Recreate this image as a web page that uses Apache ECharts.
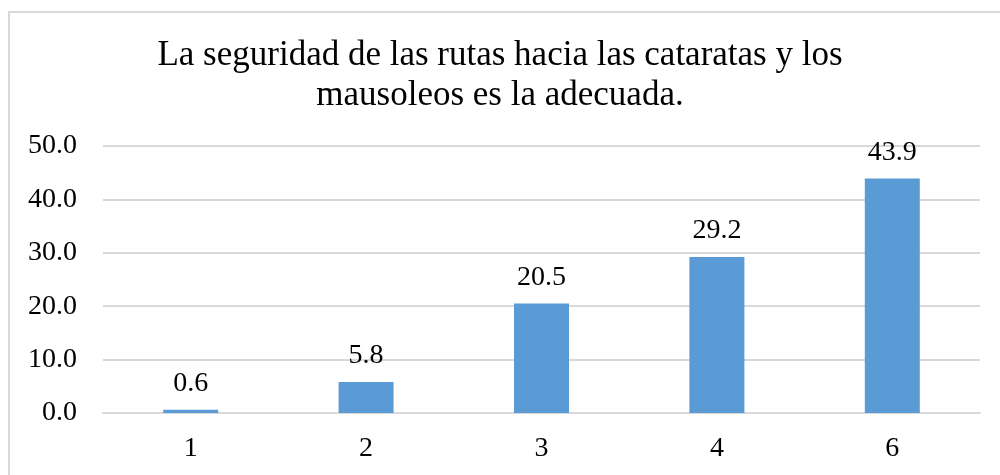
<!DOCTYPE html>
<html>
<head>
<meta charset="utf-8">
<style>
  html, body { margin: 0; padding: 0; background: #fff; }
  #main { width: 1000px; height: 475px; }
</style>
<script src="https://cdn.jsdelivr.net/npm/echarts@6/dist/echarts.min.js"></script>
</head>
<body>
<div id="main"></div>
<script>
// categorias del eje x y porcentajes
var categories = ['1', '2', '3', '4', '6'];
var values = [0.6, 5.8, 20.5, 29.2, 43.9];
var titleText = 'La seguridad de las rutas hacia las cataratas y los\nmausoleos es la adecuada.';

var font = '"Liberation Serif", "Times New Roman", serif';
var myChart = echarts.init(document.getElementById('main'));
myChart.setOption({
  animation: false,
  title: {
    text: titleText,
    left: 'center',
    top: 31,
    textStyle: {
      fontFamily: font,
      fontSize: 35,
      fontWeight: 'normal',
      color: '#000',
      lineHeight: 40,
      align: 'center'
    }
  },
  graphic: [{
    type: 'rect',
    shape: { x: 9, y: 12, width: 1010, height: 480 },
    style: { fill: 'none', stroke: '#d9d9d9', lineWidth: 2 },
    silent: true
  }],
  grid: { left: 103, right: 20, top: 146, bottom: 62 },
  xAxis: {
    type: 'category',
    data: categories,
    axisLine: { lineStyle: { color: '#d9d9d9', width: 2 } },
    axisTick: { show: false },
    axisLabel: { color: '#000', fontFamily: font, fontSize: 28, margin: 22 }
  },
  yAxis: {
    type: 'value',
    min: 0,
    max: 50,
    interval: 10,
    axisLine: { show: false },
    axisTick: { show: false },
    splitLine: { lineStyle: { color: '#d9d9d9', width: 2 } },
    axisLabel: {
      color: '#000', fontFamily: font, fontSize: 28, margin: 26,
      formatter: function (v) { return v.toFixed(1); }
    }
  },
  series: [{
    type: 'bar',
    data: values,
    barWidth: 55,
    itemStyle: { color: '#5b9bd5' },
    label: {
      show: true,
      position: 'top',
      distance: 12,
      color: '#000',
      fontFamily: font,
      fontSize: 28,
      formatter: function (p) { return p.value.toFixed(1); }
    }
  }]
});
</script>
</body>
</html>
